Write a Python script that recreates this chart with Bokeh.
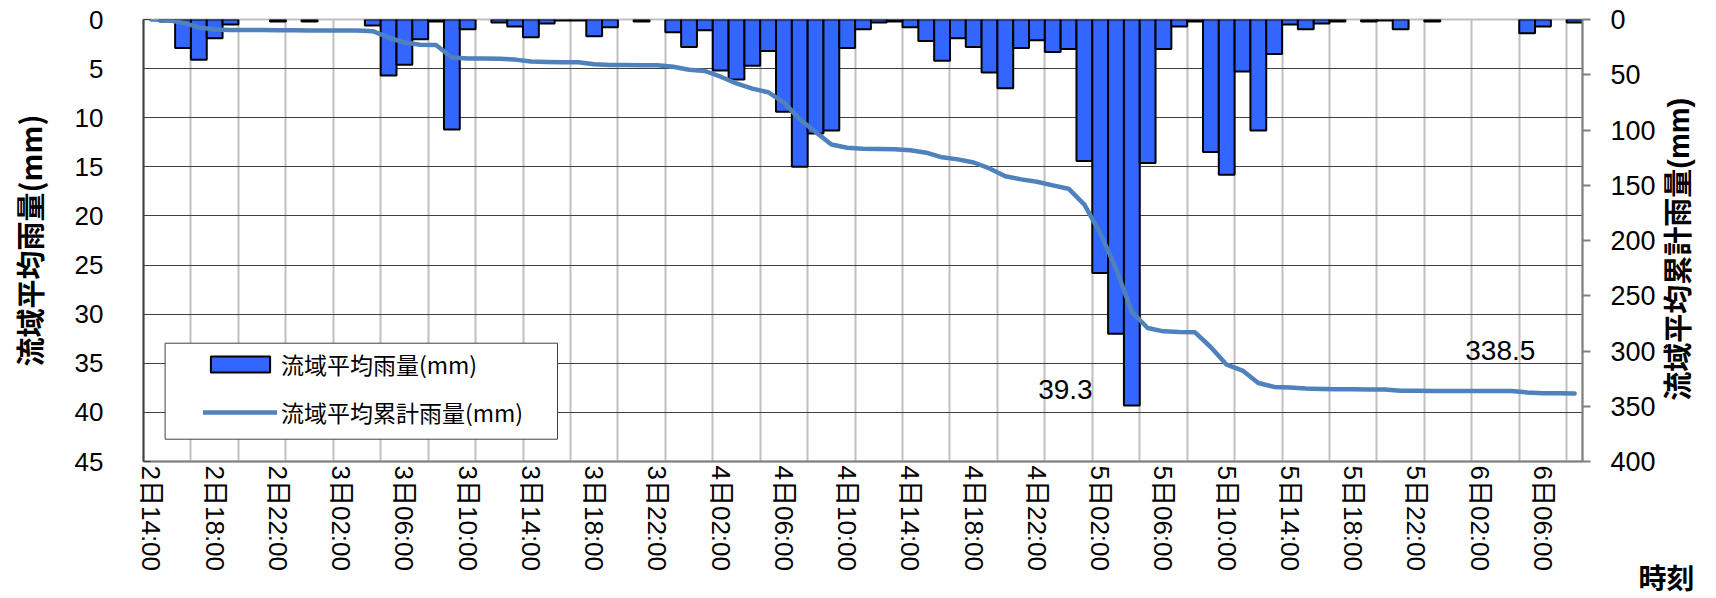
from math import pi
import numpy as np
from bokeh.plotting import figure
from bokeh.models import (Range1d, LinearAxis, FixedTicker, Legend, LegendItem,
                          Label, BoxAnnotation, ColumnDataSource)
from bokeh.embed import file_html
from bokeh.resources import INLINE

# ---------------- data ----------------
hourly_rain = [
    0.0, 0.2, 2.9, 4.1, 1.9, 0.5, 0.0, 0.0, 0.2, 0.0,
    0.2, 0.0, 0.0, 0.0, 0.6, 5.7, 4.6, 2.0, 0.2, 11.2,
    1.0, 0.0, 0.3, 0.7, 1.8, 0.4, 0.1, 0.1, 1.7, 0.8,
    0.0, 0.2, 0.0, 1.3, 2.8, 1.1, 5.2, 6.1, 4.7, 3.2,
    9.4, 15.0, 11.6, 11.3, 2.9, 1.0, 0.3, 0.2, 0.8, 2.2,
    4.2, 1.9, 2.8, 5.4, 7.0, 2.9, 2.1, 3.3, 3.0, 14.4,
    25.8, 32.0, 39.3, 14.6, 3.0, 0.7, 0.2, 13.5, 15.8, 5.3,
    11.3, 3.5, 0.5, 1.0, 0.4, 0.2, 0.0, 0.2, 0.1, 1.0,
    0.0, 0.2, 0.0, 0.0, 0.0, 0.0, 0.0, 1.4, 0.7, 0.0,
    0.3,
]
tick_labels = [
    "2日14:00", "2日18:00", "2日22:00", "3日02:00", "3日06:00", "3日10:00",
    "3日14:00", "3日18:00", "3日22:00", "4日02:00", "4日06:00", "4日10:00",
    "4日14:00", "4日18:00", "4日22:00", "5日02:00", "5日06:00", "5日10:00",
    "5日14:00", "5日18:00", "5日22:00", "6日02:00", "6日06:00",
]
left_ticks = [0, 5, 10, 15, 20, 25, 30, 35, 40, 45]
right_ticks = [0, 50, 100, 150, 200, 250, 300, 350, 400]
label_step = 4
grid_step = 3
bar_name = "流域平均雨量(mm)"
cum_name = "流域平均累計雨量(mm)"
left_title = "流域平均雨量(mm)"
right_title = "流域平均累計雨量(mm)"
x_title = "時刻"

# ---------------- derived ----------------
n = len(hourly_rain)
idx = np.arange(n)
cum = np.round(np.cumsum(hourly_rain), 1)
peak_i = int(np.argmax(hourly_rain))
peak_v = hourly_rain[peak_i]

NUM_FONT = "'Liberation Sans', 'Noto Sans CJK JP'"
CJK_FONT = "'Noto Sans CJK JP'"

p = figure(width=1716, height=598, output_backend="svg", toolbar_location=None,
           x_range=Range1d(-0.5, n - 0.5), y_range=Range1d(45, 0),
           min_border_left=143, min_border_right=134, min_border_top=19,
           min_border_bottom=134, background_fill_color="white",
           border_fill_color="white")
p.extra_y_ranges = {"cum": Range1d(400, 0)}
p.outline_line_color = "#BFBFBF"
p.outline_line_width = 2

# grids
p.xgrid.ticker = FixedTicker(ticks=[k - 0.5 for k in range(grid_step, n + 1, grid_step)])
p.xgrid.grid_line_color = "#BFBFBF"
p.xgrid.grid_line_width = 2
p.ygrid.ticker = FixedTicker(ticks=left_ticks[1:-1])
p.ygrid.grid_line_color = "#404040"
p.ygrid.grid_line_width = 1

# bars
nz = [i for i in range(n) if hourly_rain[i] > 0]
bar_src = ColumnDataSource(dict(x=[int(i) for i in nz], top=[hourly_rain[i] for i in nz]))
bars = p.vbar(x="x", top="top", bottom=0, width=1.0, source=bar_src,
              fill_color="#3366FF", line_color="black", line_width=2)

# cumulative line
cum_src = ColumnDataSource(dict(x=idx.tolist(), y=cum.tolist()))
line = p.line(x="x", y="y", source=cum_src, y_range_name="cum",
              line_color="#4F81BD", line_width=4.5, line_join="round", line_cap="round")

# x axis
xa = p.xaxis[0]
tick_pos = list(range(0, n, label_step))[:len(tick_labels)]
xa.ticker = FixedTicker(ticks=tick_pos)
xa.major_label_overrides = {int(t): lab for t, lab in zip(tick_pos, tick_labels)}
xa.major_label_orientation = -pi / 2
xa.major_label_text_font = NUM_FONT
xa.major_label_text_font_size = "26px"
xa.major_label_text_color = "black"
xa.major_label_standoff = 4
xa.major_tick_in = 0
xa.major_tick_out = 0
xa.minor_tick_line_color = None
xa.axis_line_color = "#808080"
xa.axis_line_width = 2
# axis title sits at the right end; ideographic spaces push it past the frame edge
xa.axis_label = "\u3000" * 6 + x_title
xa.axis_label_text_font = NUM_FONT
xa.axis_label_text_font_style = "bold"
xa.axis_label_text_font_size = "28px"
xa.axis_label_text_color = "black"
xa.axis_label_standoff = -10
try:
    xa.axis_label_align = "end"
except AttributeError:
    pass

# left axis
ya = p.yaxis[0]
ya.ticker = FixedTicker(ticks=left_ticks)
ya.major_label_text_font = NUM_FONT
ya.major_label_text_font_size = "26px"
ya.major_label_text_color = "black"
ya.major_label_standoff = 40
ya.major_tick_in = 7
ya.major_tick_out = 0
ya.major_tick_line_color = "#404040"
ya.minor_tick_line_color = None
ya.axis_line_color = "#404040"
ya.axis_line_width = 2
ya.axis_label = left_title
ya.axis_label_text_font = CJK_FONT
ya.axis_label_text_font_style = "bold"
ya.axis_label_text_font_size = "29px"
ya.axis_label_text_color = "black"
ya.axis_label_standoff = 22

# right axis
ra = LinearAxis(y_range_name="cum", ticker=FixedTicker(ticks=right_ticks))
ra.major_label_text_font = NUM_FONT
ra.major_label_text_font_size = "27px"
ra.major_label_text_color = "black"
ra.major_label_standoff = 20
ra.major_tick_in = 0
ra.major_tick_out = 8
ra.major_tick_line_color = "#808080"
ra.major_tick_line_width = 2
ra.minor_tick_line_color = None
ra.axis_line_color = "#808080"
ra.axis_line_width = 2
p.add_layout(ra, "right")

# right title: drawn as the single label of a bare axis, reading upwards
title_start = 345  # position (right scale) where the upward title text starts
ta = LinearAxis(y_range_name="cum", ticker=FixedTicker(ticks=[title_start]))
ta.major_label_overrides = {title_start: right_title}
ta.major_label_orientation = pi / 2
ta.major_label_text_font = NUM_FONT
ta.major_label_text_font_style = "bold"
ta.major_label_text_font_size = "29px"
ta.major_label_text_color = "black"
ta.major_label_standoff = 21
ta.major_tick_in = 0
ta.major_tick_out = 0
ta.major_tick_line_color = None
ta.minor_tick_line_color = None
ta.axis_line_color = None
p.add_layout(ta, "right")

# data labels
p.add_layout(Label(x=peak_i - 4.2, y=peak_v - 1.6, text=f"{peak_v:.1f}",
                   text_font=NUM_FONT, text_font_size="28px", text_color="black",
                   text_align="center", text_baseline="middle"))
p.add_layout(Label(x=n - 1 - 4.7, y=float(cum[-1]) - 39, y_range_name="cum",
                   text=f"{cum[-1]:.1f}",
                   text_font=NUM_FONT, text_font_size="28px", text_color="black",
                   text_align="center", text_baseline="middle"))

# legend box + legend
box = BoxAnnotation(left=21.6, right=414, bottom=22.3, top=118.3,
                    left_units="screen", right_units="screen",
                    bottom_units="screen", top_units="screen",
                    fill_color="white", fill_alpha=1.0,
                    line_color="#404040", line_width=1, line_alpha=1.0)
p.add_layout(box)

legend = Legend(items=[LegendItem(label=bar_name, renderers=[bars]),
                       LegendItem(label=cum_name, renderers=[line])],
                location=(60, 32), padding=0, margin=0, spacing=14,
                glyph_width=74, glyph_height=20, label_height=20,
                label_standoff=4, label_text_font=CJK_FONT,
                label_text_font_size="23px", label_text_color="black",
                border_line_alpha=0, background_fill_alpha=0)
p.add_layout(legend, "center")

open("out.html", "w").write(file_html(p, INLINE))
